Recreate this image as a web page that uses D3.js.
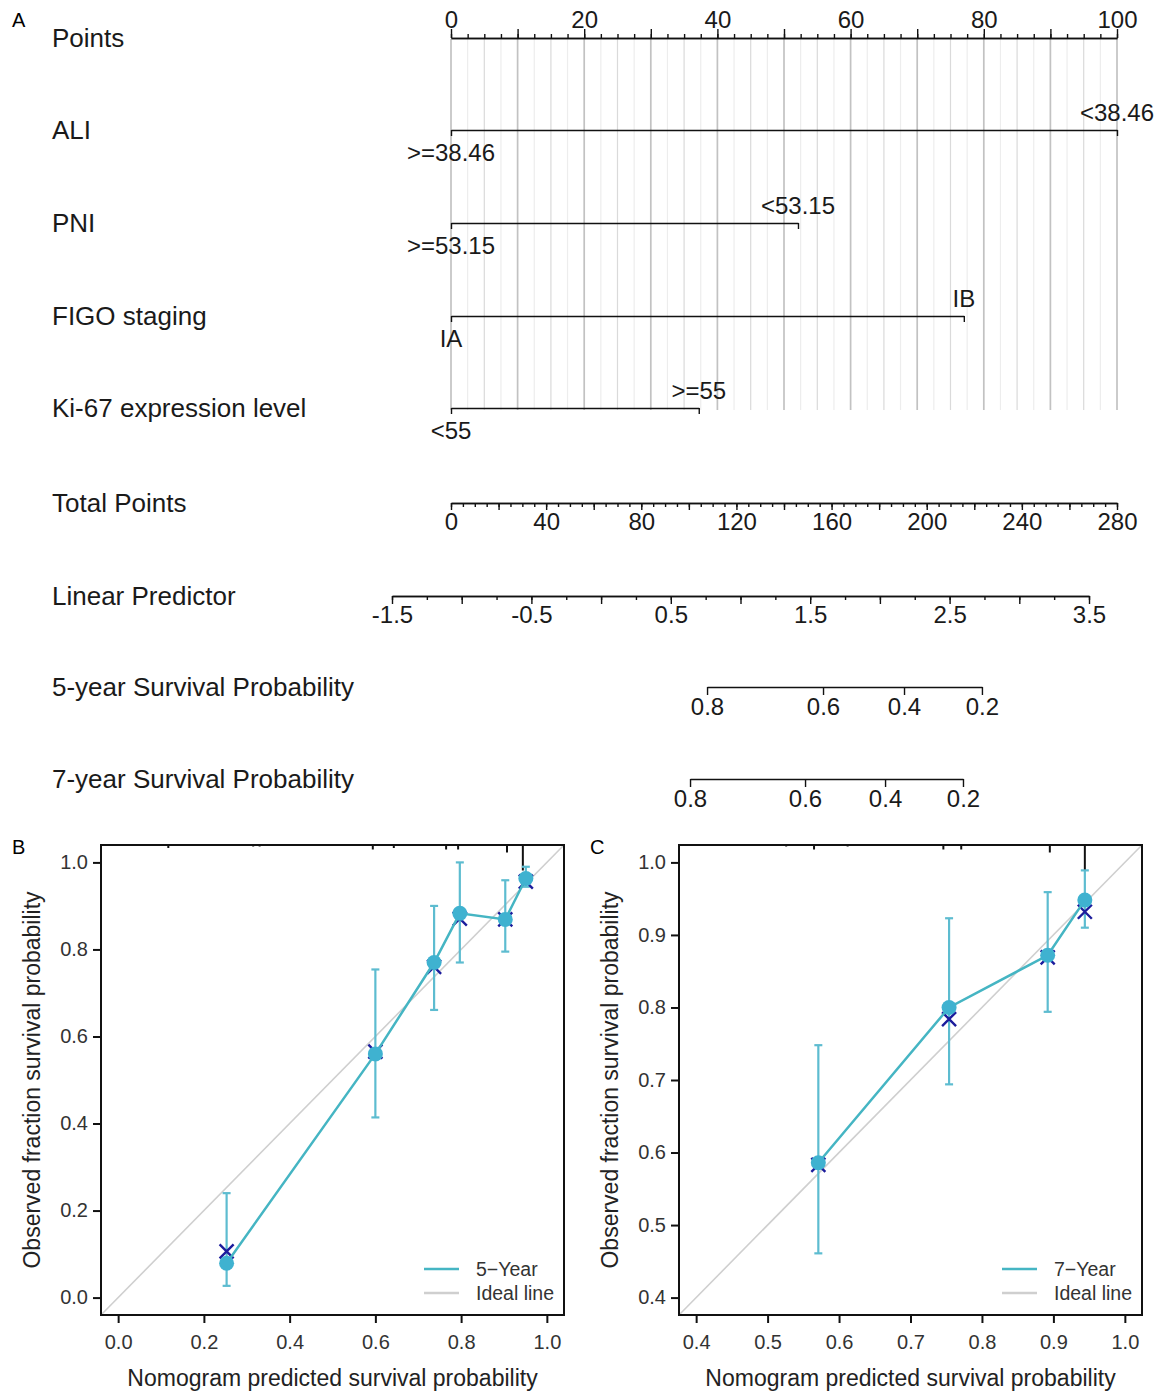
<!DOCTYPE html>
<html>
<head>
<meta charset="utf-8">
<title>Nomogram and calibration</title>
<style>
  body { margin: 0; background: #fff; }
  svg text { font-family: "Liberation Sans", Arial, sans-serif; }
</style>
</head>
<body>
<script src="https://cdn.jsdelivr.net/npm/d3@7"></script>
<script>
// ---- nomogram data ----
var rowNames = ["Points", "ALI", "PNI", "FIGO staging", "Ki-67 expression level",
                "Total Points", "Linear Predictor", "5-year Survival Probability", "7-year Survival Probability"];
var variables = ["ALI", "PNI", "FIGO staging", "Ki-67 expression level"];
var levelLow  = [">=38.46", ">=53.15", "IA", "<55"];
var levelHigh = ["<38.46", "<53.15", "IB", ">=55"];
var highPoints = [100, 52.1, 77.0, 37.2];

var pointsLabels = [0, 20, 40, 60, 80, 100];
var totalLabels = [0, 40, 80, 120, 160, 200, 240, 280];
var lpLabels = [-1.5, -0.5, 0.5, 1.5, 2.5, 3.5];

var survLabels = ["0.8", "0.6", "0.4", "0.2"];
var surv5Lp = [0.760, 1.592, 2.173, 2.732];   // linear predictor where 5-yr prob = label
var surv7Lp = [0.638, 1.463, 2.037, 2.596];   // linear predictor where 7-yr prob = label

// ---- calibration data ----
var pred5 = [0.253, 0.600, 0.737, 0.797, 0.903, 0.951];
var obs5  = [0.079, 0.560, 0.770, 0.883, 0.869, 0.963];
var lo5   = [0.027, 0.414, 0.661, 0.770, 0.795, 0.944];
var hi5   = [0.240, 0.754, 0.900, 1.000, 0.959, 0.990];
var corr5 = [0.106, 0.565, 0.760, 0.871, 0.869, 0.956];
var rug5  = [0.117, 0.315, 0.330, 0.594, 0.643, 0.765, 0.793, 0.907, 0.944];
var rugN5 = [2, 1, 1, 3, 2, 3, 3, 5, 17];

var pred7 = [0.571, 0.754, 0.892, 0.944];
var obs7  = [0.586, 0.800, 0.872, 0.948];
var lo7   = [0.461, 0.694, 0.794, 0.910];
var hi7   = [0.748, 0.923, 0.959, 0.989];
var corr7 = [0.583, 0.784, 0.869, 0.932];
var rug7  = [0.526, 0.565, 0.612, 0.746, 0.771, 0.895, 0.944];
var rugN7 = [1, 3, 1, 3, 3, 5, 17];

var svg = d3.select("body").append("svg")
            .attr("width", 1158)
            .attr("height", 1394);

var pts = d3.scaleLinear().domain([0, 100]).range([451, 1117]);
var tot = d3.scaleLinear().domain([0, 280]).range([451, 1117]);
var lp  = d3.scaleLinear().domain([-1.5, 3.5]).range([392, 1089]);

var rowY = [38, 130, 223, 316, 408, 503, 596, 687, 779];
var TICKFS = 24;

// panel letters
svg.append("text").attr("x", 12).attr("y", 27).attr("font-size", 20).text("A");
svg.append("text").attr("x", 12).attr("y", 854).attr("font-size", 20).text("B");
svg.append("text").attr("x", 590).attr("y", 854).attr("font-size", 20).text("C");

// vertical grid lines
svg.append("g").selectAll("line")
    .data(d3.range(0, 100.1, 2.5))
    .join("line")
    .attr("x1", d => pts(d)).attr("x2", d => pts(d))
    .attr("y1", rowY[0] + 1).attr("y2", rowY[4] + 2)
    .attr("stroke", d => d % 10 === 0 ? "#c2c2c2" : (d % 5 === 0 ? "#dadada" : "#ededed"))
    .attr("stroke-width", d => d % 10 === 0 ? 1.7 : 1.2);

// row labels
svg.append("g").selectAll("text")
    .data(rowNames)
    .join("text")
    .attr("x", 52)
    .attr("y", (d, i) => rowY[i])
    .attr("dy", "0.35em")
    .attr("font-size", 26)
    .attr("fill", "#1a1a1a")
    .text(d => d);

function styleAxis(g) {
  g.attr("font-family", null).attr("font-size", null);
  g.select(".domain").attr("stroke", "#111").attr("stroke-width", 1.7);
  g.selectAll(".tick line").attr("stroke", "#111").attr("stroke-width", 1.4);
  g.selectAll(".tick text").attr("font-size", TICKFS).attr("fill", "#1a1a1a");
}

// Points axis (top)
var gP = svg.append("g").attr("transform", "translate(0," + rowY[0] + ")");
gP.append("g").call(d3.axisTop(pts).tickValues(d3.range(0, 100.1, 2.5)).tickSize(4).tickSizeOuter(0).tickFormat(""))
  .call(styleAxis);
gP.append("g").call(d3.axisTop(pts).tickValues(d3.range(0, 100.1, 10)).tickSize(9).tickSizeOuter(0).tickPadding(1)
    .tickFormat(d => pointsLabels.indexOf(d) >= 0 ? d : ""))
  .call(styleAxis);

// variable axes
variables.forEach(function (v, i) {
  var sc = d3.scaleLinear().domain([0, highPoints[i]]).range([pts(0), pts(highPoints[i])]);
  var g = svg.append("g").attr("transform", "translate(0," + rowY[i + 1] + ")");
  g.call(d3.axisBottom(sc).tickValues([0, highPoints[i]]).tickSize(6).tickSizeOuter(0).tickFormat(""))
   .call(styleAxis);
  g.append("text").attr("x", sc(highPoints[i])).attr("y", -9)
   .attr("text-anchor", "middle").attr("font-size", TICKFS).attr("fill", "#1a1a1a").text(levelHigh[i]);
  g.append("text").attr("x", sc(0)).attr("y", 31)
   .attr("text-anchor", "middle").attr("font-size", TICKFS).attr("fill", "#1a1a1a").text(levelLow[i]);
});

// Total points
var gT = svg.append("g").attr("transform", "translate(0," + rowY[5] + ")");
gT.append("g").call(d3.axisBottom(tot).tickValues(d3.range(0, 280.1, 5)).tickSize(4).tickSizeOuter(0).tickFormat(""))
  .call(styleAxis);
gT.append("g").call(d3.axisBottom(tot).tickValues(d3.range(0, 280.1, 20)).tickSize(7).tickSizeOuter(0).tickPadding(3)
    .tickFormat(d => totalLabels.indexOf(d) >= 0 ? d : ""))
  .call(styleAxis);

// Linear predictor
var gL = svg.append("g").attr("transform", "translate(0," + rowY[6] + ")");
gL.append("g").call(d3.axisBottom(lp).tickValues(d3.range(-1.5, 3.51, 0.25)).tickSize(4).tickSizeOuter(0).tickFormat(""))
  .call(styleAxis);
gL.append("g").call(d3.axisBottom(lp).tickValues(d3.range(-1.5, 3.51, 0.5)).tickSize(8).tickSizeOuter(0).tickPadding(2)
    .tickFormat(d => lpLabels.indexOf(d) >= 0 ? String(d) : ""))
  .call(styleAxis);

// Survival probability axes
[[surv5Lp, rowY[7]], [surv7Lp, rowY[8]]].forEach(function (s) {
  var vals = s[0];
  var sc = d3.scaleLinear().domain([vals[0], vals[3]]).range([lp(vals[0]), lp(vals[3])]);
  svg.append("g").attr("transform", "translate(0," + s[1] + ")")
    .call(d3.axisBottom(sc).tickValues(vals).tickSize(8).tickSizeOuter(0).tickPadding(3)
      .tickFormat((d, i) => survLabels[i]))
    .call(styleAxis);
});

// ---- calibration panels ----
var cLine = "#45b5c3", cDot = "#3fb2d0", cErr = "#5dbcd0", cX = "#1c1c9c";

function calPanel(o) {
  var top = 845, bottom = 1315;
  var x = d3.scaleLinear().domain(o.dom).range([o.left, o.right]);
  var y = d3.scaleLinear().domain(o.dom).range([bottom, top]);
  var g = svg.append("g");

  // ideal line
  g.append("line")
    .attr("x1", x(o.dom[0])).attr("y1", y(o.dom[0]))
    .attr("x2", x(o.dom[1])).attr("y2", y(o.dom[1]))
    .attr("stroke", "#cfcfcf").attr("stroke-width", 1.6);

  // rug on top
  g.selectAll(".rug").data(o.rug).join("line")
    .attr("x1", d => x(d)).attr("x2", d => x(d))
    .attr("y1", top).attr("y2", (d, i) => top + 1.5 * o.rugN[i])
    .attr("stroke", "#111").attr("stroke-width", 2);

  // error bars
  var eb = g.append("g").attr("stroke", cErr).attr("stroke-width", 2.2);
  o.pred.forEach(function (p, i) {
    eb.append("line").attr("x1", x(p)).attr("x2", x(p)).attr("y1", y(o.lo[i])).attr("y2", y(o.hi[i]));
    eb.append("line").attr("x1", x(p) - 4).attr("x2", x(p) + 4).attr("y1", y(o.lo[i])).attr("y2", y(o.lo[i]));
    eb.append("line").attr("x1", x(p) - 4).attr("x2", x(p) + 4).attr("y1", y(o.hi[i])).attr("y2", y(o.hi[i]));
  });

  // bias-corrected crosses
  g.append("g").selectAll("path").data(o.pred).join("path")
    .attr("d", (p, i) => {
      var cx = x(p), cy = y(o.corr[i]), h = 7;
      return "M" + (cx - h) + "," + (cy - h) + "L" + (cx + h) + "," + (cy + h) +
             "M" + (cx - h) + "," + (cy + h) + "L" + (cx + h) + "," + (cy - h);
    })
    .attr("stroke", cX).attr("stroke-width", 2.4).attr("fill", "none");

  // apparent line
  g.append("path")
    .datum(o.pred.map((p, i) => [p, o.obs[i]]))
    .attr("d", d3.line().x(d => x(d[0])).y(d => y(d[1])))
    .attr("fill", "none").attr("stroke", cLine).attr("stroke-width", 2.5);

  g.append("g").selectAll("circle").data(o.pred).join("circle")
    .attr("cx", d => x(d)).attr("cy", (d, i) => y(o.obs[i]))
    .attr("r", 7.5).attr("fill", cDot);

  // box
  g.append("rect").attr("x", o.left).attr("y", top)
    .attr("width", o.right - o.left).attr("height", bottom - top)
    .attr("fill", "none").attr("stroke", "#111").attr("stroke-width", 2);

  // axes
  var ax = g.append("g").attr("transform", "translate(0," + bottom + ")")
    .call(d3.axisBottom(x).tickValues(o.ticks).tickSize(8).tickSizeOuter(0).tickPadding(12).tickFormat(d3.format(".1f")));
  var ay = g.append("g").attr("transform", "translate(" + o.left + ",0)")
    .call(d3.axisLeft(y).tickValues(o.ticks).tickSize(8).tickSizeOuter(0).tickPadding(5).tickFormat(d3.format(".1f")));
  [ax, ay].forEach(function (a) {
    a.attr("font-family", null).attr("font-size", null);
    a.select(".domain").remove();
    a.selectAll(".tick line").attr("stroke", "#111").attr("stroke-width", 2);
    a.selectAll(".tick text").attr("font-size", 20).attr("fill", "#333");
  });

  g.append("text").attr("x", (o.left + o.right) / 2).attr("y", 1386)
    .attr("text-anchor", "middle").attr("font-size", 23).attr("fill", "#222")
    .text("Nomogram predicted survival probability");
  g.append("text")
    .attr("transform", "translate(" + (o.left - 61) + "," + ((top + bottom) / 2) + ") rotate(-90)")
    .attr("text-anchor", "middle").attr("font-size", 23).attr("fill", "#222")
    .text("Observed fraction survival probability");

  // legend
  var lg = g.append("g");
  lg.append("line").attr("x1", o.right - 140).attr("x2", o.right - 105).attr("y1", 1269).attr("y2", 1269)
    .attr("stroke", cLine).attr("stroke-width", 2.5);
  lg.append("line").attr("x1", o.right - 140).attr("x2", o.right - 105).attr("y1", 1293).attr("y2", 1293)
    .attr("stroke", "#cfcfcf").attr("stroke-width", 2.5);
  lg.append("text").attr("x", o.right - 88).attr("y", 1269).attr("dy", "0.35em")
    .attr("font-size", 19.5).attr("fill", "#333").text(o.name);
  lg.append("text").attr("x", o.right - 88).attr("y", 1293).attr("dy", "0.35em")
    .attr("font-size", 19.5).attr("fill", "#333").text("Ideal line");
}

calPanel({
  dom: [-0.04, 1.04], left: 101, right: 564,
  ticks: [0, 0.2, 0.4, 0.6, 0.8, 1.0],
  pred: pred5, obs: obs5, lo: lo5, hi: hi5, corr: corr5, rug: rug5, rugN: rugN5,
  name: "5\u2212Year"
});
calPanel({
  dom: [0.376, 1.024], left: 679, right: 1142,
  ticks: [0.4, 0.5, 0.6, 0.7, 0.8, 0.9, 1.0],
  pred: pred7, obs: obs7, lo: lo7, hi: hi7, corr: corr7, rug: rug7, rugN: rugN7,
  name: "7\u2212Year"
});
</script>
</body>
</html>
